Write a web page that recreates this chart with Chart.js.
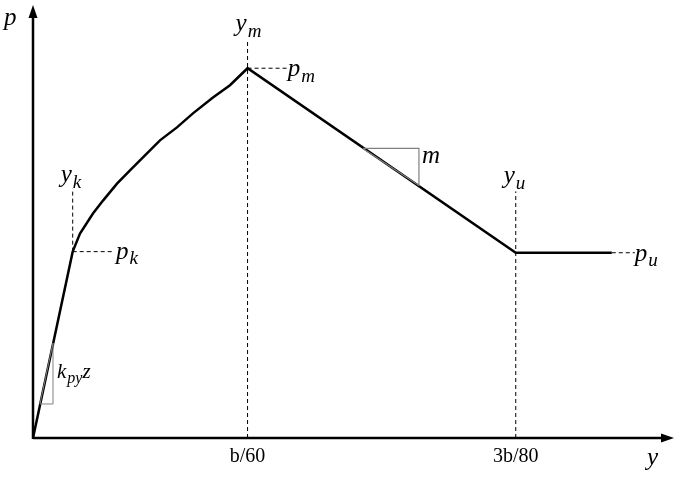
<!DOCTYPE html>
<html>
<head>
<meta charset="utf-8">
<script src="https://cdn.jsdelivr.net/npm/chart.js@4/dist/chart.umd.min.js"></script>
<style>
  body { margin: 0; background: #fff; }
  #wrap { width: 681px; height: 477px; }
</style>
</head>
<body>
<div id="wrap"><canvas id="myChart"></canvas></div>
<script>
// x in units of b/240, p normalised to pm = 1
var xMax = 11.95;
var pMax = 1.171;

var xTicks = [4, 9];
var xTickLabels = ['b/60', '3b/80'];

// p-y curve
var curveX = [0, 0.74, 0.876, 1.118, 1.305, 1.566, 1.808, 2.05, 2.367, 2.684, 2.982, 3.355, 3.672, 4.0, 9.0, 10.79];
var curveP = [0, 0.504, 0.553, 0.607, 0.642, 0.688, 0.724, 0.759, 0.805, 0.840, 0.878, 0.921, 0.954, 1.0, 0.501, 0.501];

// dashed guide lines
var ykDashX = [0.74, 0.74];   var ykDashP = [0.504, 0.675];
var pkDashX = [0.74, 1.49];   var pkDashP = [0.504, 0.504];
var ymDashX = [4, 4];         var ymDashP = [0, 1.079];
var pmDashX = [4, 4.73];      var pmDashP = [1.0, 1.0];
var yuDashX = [9, 9];         var yuDashP = [0, 0.667];
var puDashX = [10.79, 11.22]; var puDashP = [0.501, 0.501];

// slope triangles
var kTriX = [0.13, 0.373, 0.373, 0.13];
var kTriP = [0.092, 0.092, 0.257, 0.092];
var mTriX = [6.151, 7.195, 7.195, 6.151];
var mTriP = [0.783, 0.783, 0.683, 0.783];

function pts(xs, ys) {
  return xs.map(function (x, i) { return { x: x, y: ys[i] }; });
}

function dashed(xs, ys) {
  return {
    data: pts(xs, ys), showLine: true, borderColor: '#000', borderWidth: 1,
    borderDash: [4, 3], pointRadius: 0, order: 3
  };
}

// text labels: anchor in data units, offset in px
var labels = [
  { x: 0, y: pMax, dx: -29, dy: 20, parts: [{ t: 'p' }] },
  { x: xMax, y: 0, dx: -27, dy: 27, parts: [{ t: 'y' }] },
  { x: 0.74, y: 0.675, dx: -12, dy: -6, parts: [{ t: 'y' }, { t: 'k', sub: true }] },
  { x: 1.49, y: 0.504, dx: 3, dy: 7, parts: [{ t: 'p' }, { t: 'k', sub: true }] },
  { x: 4, y: 1.079, dx: -12, dy: -8, parts: [{ t: 'y' }, { t: 'm', sub: true }] },
  { x: 4.73, y: 1.0, dx: 1, dy: 8, parts: [{ t: 'p' }, { t: 'm', sub: true }] },
  { x: 9, y: 0.667, dx: -12, dy: -8, parts: [{ t: 'y' }, { t: 'u', sub: true }] },
  { x: 11.22, y: 0.501, dx: 0, dy: 8, parts: [{ t: 'p' }, { t: 'u', sub: true }] },
  { x: 7.195, y: 0.783, dx: 3, dy: 15, parts: [{ t: 'm' }] },
  { x: 0.373, y: 0.257, dx: 4, dy: 35, size: 21, parts: [{ t: 'k' }, { t: 'py', sub: true }, { t: 'z' }] }
];

var annotate = {
  id: 'annotate',
  afterDatasetsDraw: function (chart) {
    var ctx = chart.ctx;
    var xs = chart.scales.x, ys = chart.scales.y;
    var x0 = xs.getPixelForValue(0), y0 = ys.getPixelForValue(0);
    var right = xs.getPixelForValue(xMax), top = ys.getPixelForValue(pMax);

    ctx.save();
    ctx.strokeStyle = '#000';
    ctx.fillStyle = '#000';
    ctx.lineWidth = 2.5;
    ctx.beginPath();
    ctx.moveTo(x0, y0); ctx.lineTo(right - 10, y0);
    ctx.moveTo(x0, y0 + 1); ctx.lineTo(x0, top + 10);
    ctx.stroke();
    // arrow heads
    ctx.beginPath();
    ctx.moveTo(right, y0); ctx.lineTo(right - 13, y0 - 4.5); ctx.lineTo(right - 13, y0 + 4.5);
    ctx.closePath(); ctx.fill();
    ctx.beginPath();
    ctx.moveTo(x0, top); ctx.lineTo(x0 - 4.5, top + 13); ctx.lineTo(x0 + 4.5, top + 13);
    ctx.closePath(); ctx.fill();

    labels.forEach(function (l) {
      var size = l.size || 25;
      var subSize = Math.round(size * 0.74);
      var px = xs.getPixelForValue(l.x) + l.dx;
      var py = ys.getPixelForValue(l.y) + l.dy;
      ctx.textBaseline = 'alphabetic';
      ctx.textAlign = 'left';
      l.parts.forEach(function (p) {
        var s = p.sub ? subSize : size;
        ctx.font = 'italic ' + s + 'px "Liberation Serif", "Times New Roman", serif';
        ctx.fillText(p.t, px, py + (p.sub ? size * 0.22 : 0));
        px += ctx.measureText(p.t).width + (p.sub ? 0 : 1);
      });
    });
    ctx.restore();
  }
};

var ctx = document.getElementById('myChart').getContext('2d');
var chart = new Chart(ctx, {
  type: 'scatter',
  data: {
    datasets: [
      { data: pts(curveX, curveP), showLine: true, borderColor: '#000', borderWidth: 2.5, pointRadius: 0, order: 2 },
      dashed(ykDashX, ykDashP),
      dashed(pkDashX, pkDashP),
      dashed(ymDashX, ymDashP),
      dashed(pmDashX, pmDashP),
      dashed(yuDashX, yuDashP),
      dashed(puDashX, puDashP),
      { data: pts(kTriX, kTriP), showLine: true, borderColor: '#808080', borderWidth: 1, pointRadius: 0, order: 1 },
      { data: pts(mTriX, mTriP), showLine: true, borderColor: '#808080', borderWidth: 1.2, pointRadius: 0, order: 1 }
    ]
  },
  options: {
    responsive: true,
    maintainAspectRatio: false,
    animation: false,
    layout: { padding: { left: 33, right: 7, top: 5, bottom: 1 } },
    plugins: { legend: { display: false }, tooltip: { enabled: false } },
    scales: {
      x: {
        type: 'linear', min: 0, max: xMax,
        grid: { display: false, drawTicks: false },
        border: { display: false },
        afterBuildTicks: function (scale) {
          scale.ticks = xTicks.map(function (v) { return { value: v }; });
        },
        ticks: {
          autoSkip: false, maxRotation: 0, padding: 7, color: '#000',
          font: { family: '"Liberation Serif", "Times New Roman", serif', size: 20 },
          callback: function (v) { return xTickLabels[xTicks.indexOf(v)]; }
        }
      },
      y: { type: 'linear', min: 0, max: pMax, display: false }
    }
  },
  plugins: [annotate]
});
</script>
</body>
</html>
